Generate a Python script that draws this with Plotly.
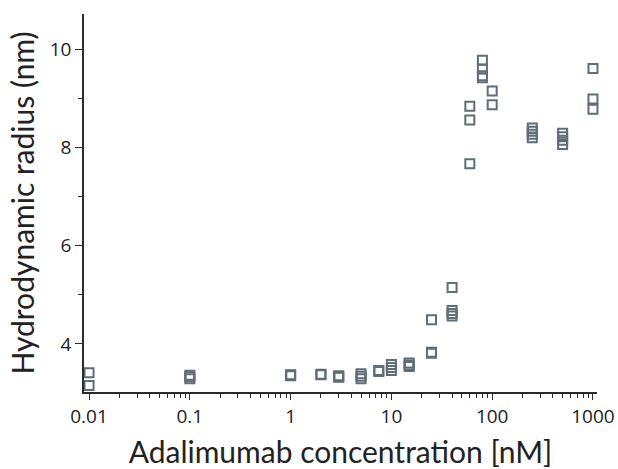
import plotly.graph_objects as go

conc = [0.01, 0.01,
        0.1, 0.1, 0.1,
        1, 1, 1,
        2, 2,
        3, 3, 3,
        5, 5, 5,
        7.5, 7.5,
        10, 10, 10,
        15, 15, 15,
        25, 25, 25,
        40, 40, 40, 40,
        60, 60, 60,
        80, 80, 80, 80,
        100, 100,
        250, 250, 250, 250,
        500, 500, 500, 500,
        1000, 1000, 1000]
radius = [3.41, 3.15,
          3.36, 3.33, 3.29,
          3.37, 3.36, 3.35,
          3.38, 3.37,
          3.35, 3.33, 3.32,
          3.39, 3.34, 3.29,
          3.46, 3.44,
          3.58, 3.52, 3.46,
          3.61, 3.57, 3.54,
          4.49, 3.83, 3.81,
          5.15, 4.68, 4.62, 4.57,
          8.84, 8.56, 7.67,
          9.78, 9.60, 9.46, 9.42,
          9.15, 8.87,
          8.40, 8.33, 8.27, 8.20,
          8.29, 8.22, 8.15, 8.06,
          9.61, 8.99, 8.78]

x_ticks = [0.01, 0.1, 1, 10, 100, 1000]
x_ticklabels = ["0.01", "0.1", "1", "10", "100", "1000"]
x_minor = [m * d for d in [0.01, 0.1, 1, 10, 100] for m in range(2, 10)]

fig = go.Figure()
fig.add_trace(go.Scatter(
    x=conc, y=radius, mode="markers",
    marker=dict(symbol="square-open", size=9, color="#5e6d76",
                line=dict(width=2, color="#5e6d76")),
    showlegend=False, cliponaxis=False,
))

axis_color = "#2b2b2b"
fig.update_layout(
    width=618, height=469,
    margin=dict(l=84, r=21, t=14, b=77),
    paper_bgcolor="white", plot_bgcolor="white",
    font=dict(family="Lato, Open Sans, sans-serif", color="#222222"),
    xaxis=dict(
        type="log", range=[-2.05, 3.04], automargin=False,
        tickmode="array", tickvals=x_ticks, ticktext=x_ticklabels,
        ticks="outside", ticklen=6, tickwidth=1.3, tickcolor=axis_color,
        minor=dict(tickmode="array", tickvals=x_minor, ticks="outside",
                   ticklen=4, tickwidth=1.2, tickcolor=axis_color, showgrid=False),
        showline=True, linecolor=axis_color, linewidth=1.5,
        showgrid=False, zeroline=False,
        tickfont=dict(size=19, family="Open Sans, sans-serif", color="#222222"),
        title=dict(text="Adalimumab concentration [nM]",
                   font=dict(size=30, family="Lato, sans-serif", color="#222222"),
                   standoff=16),
    ),
    yaxis=dict(
        range=[3.02, 10.72], automargin=False,
        tickmode="linear", tick0=0, dtick=2,
        ticks="outside", ticklen=7, tickwidth=1.3, tickcolor=axis_color,
        minor=dict(dtick=1, tick0=0, ticks="outside", ticklen=4,
                   tickwidth=1.2, tickcolor=axis_color, showgrid=False),
        showline=True, linecolor=axis_color, linewidth=1.5,
        showgrid=False, zeroline=False,
        tickfont=dict(size=19, family="Open Sans, sans-serif", color="#222222"),
        title=dict(text="Hydrodynamic radius (nm)",
                   font=dict(size=30, family="Lato, sans-serif", color="#222222"),
                   standoff=6),
    ),
)

fig.write_html("out.html")
